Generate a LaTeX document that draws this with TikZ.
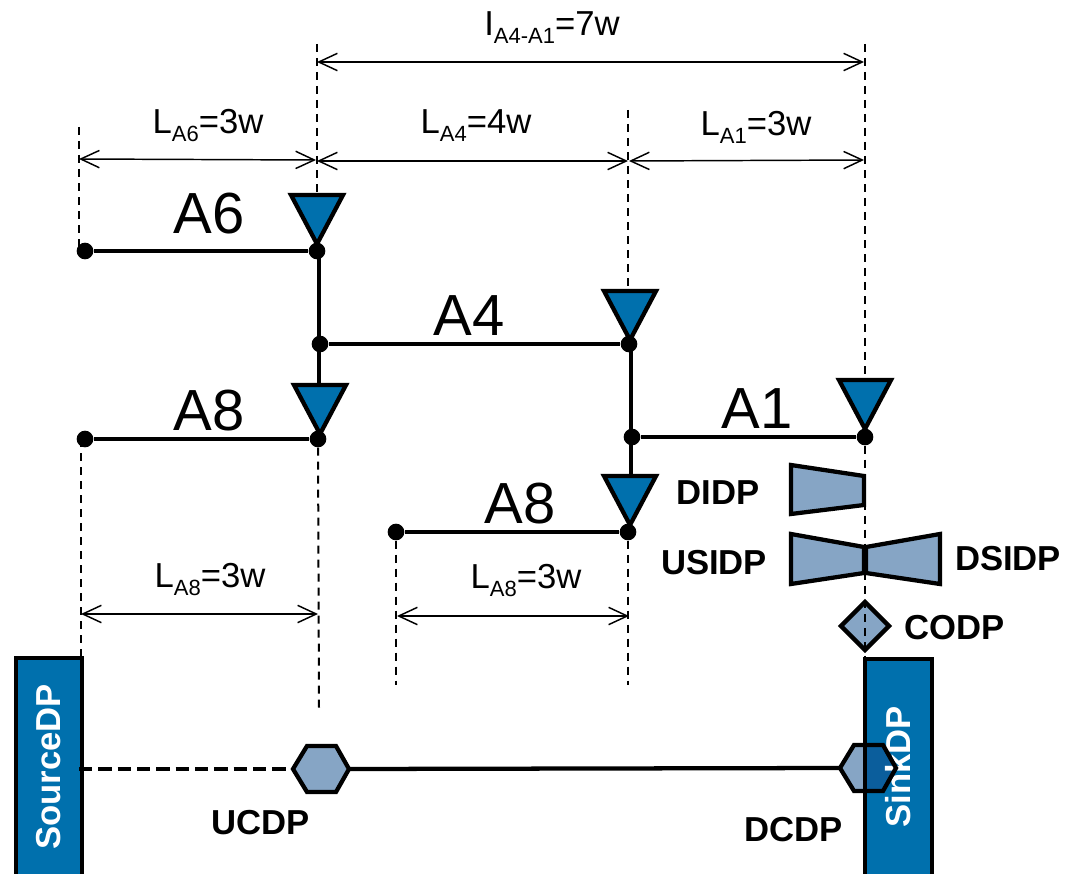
\documentclass[tikz,border=0pt]{standalone}
\usepackage{fontspec}
\setmainfont{Liberation Sans}
\usetikzlibrary{arrows.meta}
\definecolor{portblue}{HTML}{0070AD}
\definecolor{dpblue}{HTML}{86A5C5}
\definecolor{dpdark}{HTML}{0B5E9C}
\newcommand{\lsub}[1]{\raisebox{-6pt}{\fontsize{16.5}{18}\selectfont #1}}
\tikzset{
  wire/.style={line width=3.2pt},
  guide/.style={line width=1.5pt,dash pattern=on 6pt off 4.5pt},
  dim/.style={line width=1.1pt,{Straight Barb[length=14pt,width=13pt,line width=1.1pt]}-{Straight Barb[length=14pt,width=13pt,line width=1.1pt]}},
  dot/.style={circle,fill=black,inner sep=0pt,minimum size=12.5pt},
  tri/.style={line width=3.2pt,fill=portblue},
  dpshape/.style={line width=3.2pt,fill=dpblue},
  measure/.style={font=\fontsize{26}{30}\selectfont},
  linkname/.style={font=\fontsize{43.5}{50}\selectfont},
  dplabel/.style={font=\fontsize{26}{30}\selectfont\bfseries},
}
\begin{document}
\begin{tikzpicture}[x=0.75pt,y=-0.75pt]
\useasboundingbox (0,0) rectangle (1065,874);
% junctions
\node[dot] (a6l) at (85,251) {};
\node[dot] (a6r) at (317,251) {};
\node[dot] (a4l) at (320,344) {};
\node[dot] (a4r) at (629,344) {};
\node[dot] (a8l) at (85,439) {};
\node[dot] (a8r) at (318,439) {};
\node[dot] (a1l) at (632,437) {};
\node[dot] (a1r) at (865,437) {};
\node[dot] (b8l) at (396,532) {};
\node[dot] (b8r) at (628,532) {};
% guide lines
\coordinate (g1a) at (79,127);
\coordinate (g1b) at (79,250);
\coordinate (g2a) at (317,44);
\coordinate (g2b) at (317,200);
\coordinate (g3a) at (628,110);
\coordinate (g3b) at (628,295);
\coordinate (g4a) at (865,44);
\coordinate (g4b) at (865,385);
\coordinate (g4c) at (865,659);
\coordinate (g5a) at (81,439);
\coordinate (g5b) at (81,658);
\coordinate (g6b) at (319,708);
\coordinate (g7b) at (396,685);
\coordinate (g8b) at (628,685);
\draw[guide] (g1a)--(g1b);
\draw[guide] (g2a)--(g2b);
\draw[guide] (g3a)--(g3b);
\draw[guide] (g4a)--(g4b);
\draw[guide] (a1r)--(g4c);
\draw[guide] (g5a)--(g5b);
\draw[guide] (a8r)--(g6b);
\draw[guide] (b8l)--(g7b);
\draw[guide] (b8r)--(g8b);
% links
\coordinate (v1a) at (319,251);
\coordinate (v1b) at (319,390);
\coordinate (v2a) at (631,344);
\coordinate (v2b) at (631,480);
\draw[wire] (a6l)--(a6r);
\draw[wire] (a4l)--(a4r);
\draw[wire] (a8l)--(a8r);
\draw[wire] (a1l)--(a1r);
\draw[wire] (b8l)--(b8r);
\draw[wire] (v1a)--(v1b);
\draw[wire] (v2a)--(v2b);
% antennas
\foreach \x/\y in {317/195,630/291,320/385,865/380,630/476}
  \draw[tri] (\x-26,\y)--(\x+26,\y)--(\x,\y+49)--cycle;
% dimensions
\coordinate (d1a) at (317,62);
\coordinate (d1b) at (864,62);
\coordinate (d2a) at (79,159);
\coordinate (d2b) at (316,160);
\coordinate (d3a) at (317,161);
\coordinate (d3b) at (628,161);
\coordinate (d4a) at (629,161);
\coordinate (d4b) at (864,160);
\coordinate (d5a) at (81,614);
\coordinate (d5b) at (318,614);
\coordinate (d6a) at (397,616);
\coordinate (d6b) at (629,616);
\draw[dim] (d1a)--(d1b);
\draw[dim] (d2a)--(d2b);
\draw[dim] (d3a)--(d3b);
\draw[dim] (d4a)--(d4b);
\draw[dim] (d5a)--(d5b);
\draw[dim] (d6a)--(d6b);
\node[measure] (la4a1) at (552,28) {I\lsub{A4-A1}=7w};
\node[measure] (la6) at (208,126) {L\lsub{A6}=3w};
\node[measure] (la4) at (476,126) {L\lsub{A4}=4w};
\node[measure] (la1) at (756,127) {L\lsub{A1}=3w};
\node[measure] (la8) at (210,580) {L\lsub{A8}=3w};
\node[measure] (lb8) at (526,581) {L\lsub{A8}=3w};
\node[linkname] (na6) at (209,214) {A6};
\node[linkname] (na4) at (469,316) {A4};
\node[linkname] (na8) at (209,411) {A8};
\node[linkname] (na1) at (757,409) {A1};
\node[linkname] (nb8) at (520,504) {A8};
% source and sink
\fill[portblue] (16,658) rectangle (82,874);
\draw[wire] (16,874)--(16,658)--(82,658)--(82,874);
\fill[portblue] (865,659) rectangle (932,874);
\draw[wire] (865,874)--(865,659)--(932,659)--(932,874);
% connection points
\coordinate (srcp) at (79,769);
\coordinate (ucl) at (293,769);
\coordinate (ucr) at (349,769);
\coordinate (dcl) at (840,768);
\draw[wire,dash pattern=on 10pt off 4.5pt] (srcp)--(ucl);
\draw[wire] (ucr)--(dcl);
\draw[dpshape] (ucl)--(307,746)--(336,746)--(ucr)--(336,792)--(307,792)--cycle;
\fill[dpblue] (dcl)--(854,745)--(883,745)--(896,768)--(883,791)--(854,791)--cycle;
\begin{scope}
\clip (865,659) rectangle (932,874);
\fill[dpdark] (dcl)--(854,745)--(883,745)--(896,768)--(883,791)--(854,791)--cycle;
\end{scope}
\draw[wire] (865,740)--(865,795);
\node[dplabel,text=white,rotate=90] (source) at (49,767) {SourceDP};
\node[dplabel,text=white,rotate=90] (sink) at (898,767) {SinkDP};
\draw[wire,line join=miter] (dcl)--(854,745)--(883,745)--(896,768)--(883,791)--(854,791)--cycle;
% port shapes
\draw[dpshape] (791,465)--(864,476)--(864,505)--(791,514)--cycle;
\draw[dpshape] (791,534)--(864,547)--(864,573)--(791,584)--cycle;
\draw[dpshape] (940,534)--(866,547)--(866,573)--(940,584)--cycle;
\fill[dpblue] (865,602)--(889,626)--(865,650)--(841,626)--cycle;
\draw[guide,line width=1.2pt] (865,600)--(865,652);
\draw[line width=3.2pt] (865,602)--(889,626)--(865,650)--(841,626)--cycle;
\node[dplabel] (didp) at (718,493) {DIDP};
\node[dplabel] (usidp) at (714,563) {USIDP};
\node[dplabel] (dsidp) at (1008,559) {DSIDP};
\node[dplabel] (codp) at (955,628) {CODP};
\node[dplabel] (ucdp) at (261,823) {UCDP};
\node[dplabel] (dcdp) at (794,830) {DCDP};
\end{tikzpicture}
\end{document}
